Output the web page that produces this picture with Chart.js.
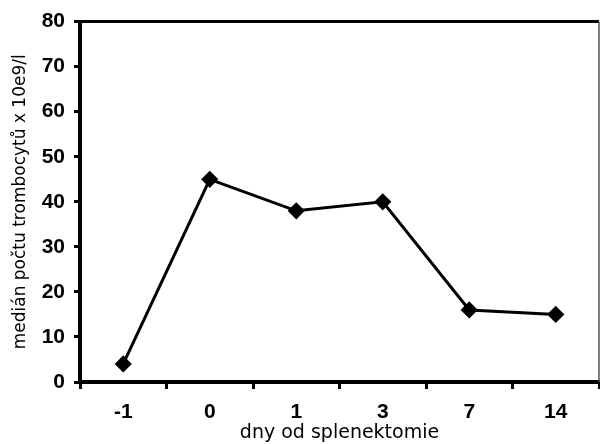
<!DOCTYPE html>
<html>
<head>
<meta charset="utf-8">
<script src="https://cdn.jsdelivr.net/npm/chart.js@4"></script>
<style>
html,body{margin:0;padding:0;background:#fff;}
#wrap{width:600px;height:444px;position:relative;}
</style>
</head>
<body>
<div id="wrap"><canvas id="c" width="600" height="444"></canvas></div>
<script>
const categories = ["-1", "0", "1", "3", "7", "14"];
const medianValues = [4, 45, 38, 40, 16, 15];
const yTicks = [0, 10, 20, 30, 40, 50, 60, 70, 80];
const xTitle = "dny od splenektomie";
const yTitle = "medián počtu trombocytů x 10e9/l";

const frame = {
  id: 'frame',
  afterDraw(chart) {
    const a = chart.chartArea, ctx = chart.ctx;
    ctx.save();
    ctx.strokeStyle = '#000';
    ctx.lineWidth = 3;
    ctx.beginPath();
    ctx.moveTo(a.left, a.top);
    ctx.lineTo(a.right, a.top);
    ctx.stroke();
    ctx.strokeStyle = '#555';
    ctx.lineWidth = 1.5;
    ctx.beginPath();
    ctx.moveTo(a.right, a.top);
    ctx.lineTo(a.right, a.bottom);
    ctx.stroke();
    ctx.restore();
  }
};

new Chart(document.getElementById('c'), {
  type: 'line',
  data: {
    labels: categories,
    datasets: [{
      data: medianValues,
      borderColor: '#000',
      backgroundColor: '#000',
      borderWidth: 3,
      pointStyle: 'rectRot',
      pointRadius: 6.5,
      pointHoverRadius: 6.5,
      tension: 0,
      fill: false
    }]
  },
  plugins: [frame],
  options: {
    responsive: false,
    animation: false,
    devicePixelRatio: 1,
    layout: { autoPadding: false, padding: { top: 20, right: 1, left: 0, bottom: 0 } },
    plugins: { legend: { display: false }, tooltip: { enabled: false } },
    scales: {
      x: {
        offset: true,
        grid: { offset: true, drawOnChartArea: false, drawTicks: true, tickLength: 7, color: '#000', lineWidth: 3 },
        border: { display: true, color: '#000', width: 4 },
        ticks: { color: '#000', font: { family: 'Liberation Sans', size: 21, weight: 'bold' }, padding: 11 },
        title: { display: true, text: xTitle, color: '#000', font: { family: 'DejaVu Sans', size: 19 }, padding: { top: 0, bottom: 0 } },
        afterFit: function(s){ s.height = 62; }
      },
      y: {
        min: 0, max: 80,
        afterBuildTicks: function(s){ s.ticks = yTicks.map(v => ({value: v})); },
        grid: { drawOnChartArea: false, drawTicks: true, tickLength: 6, color: '#000', lineWidth: 3 },
        border: { display: true, color: '#000', width: 4 },
        ticks: { color: '#000', font: { family: 'Liberation Sans', size: 21, weight: 'bold' }, padding: 9 },
        title: { display: true, text: yTitle, color: '#000', font: { family: 'DejaVu Sans', size: 17 }, padding: { top: 10, bottom: 0 } },
        afterFit: function(s){ s.width = 80; }
      }
    }
  }
});
</script>
</body>
</html>
